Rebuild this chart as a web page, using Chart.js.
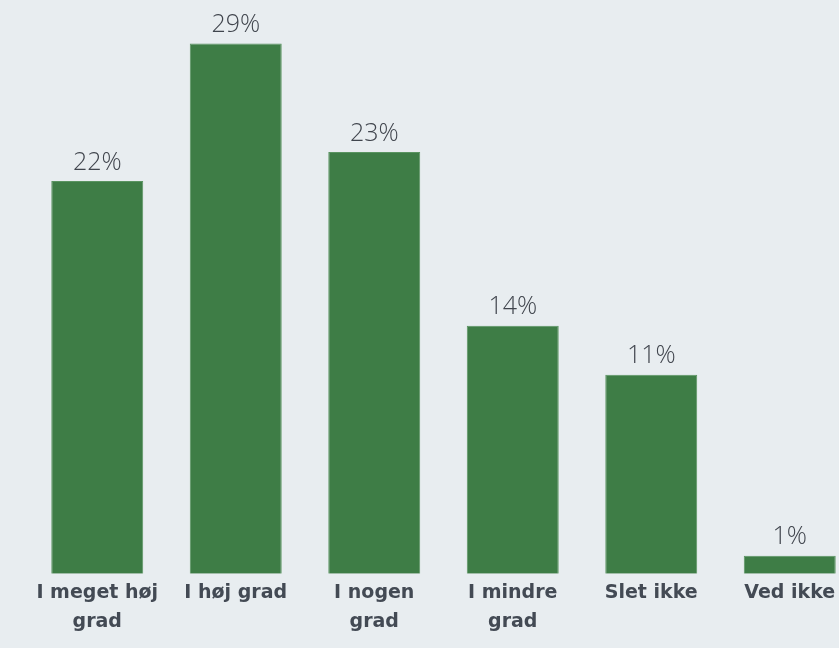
<!DOCTYPE html>
<html>
<head>
<meta charset="utf-8">
<script src="https://cdn.jsdelivr.net/npm/chart.js@4"></script>
<style>
    html, body { margin: 0; padding: 0; background: #e8edf0; overflow: hidden; }
    #wrap { width: 870px; height: 648px; }
</style>
</head>
<body>
<div id="wrap"><canvas id="chart"></canvas></div>
<script>
// categories and values
const categories = [['I meget høj', 'grad'], 'I høj grad', ['I nogen', 'grad'], ['I mindre', 'grad'], 'Slet ikke', 'Ved ikke'];
const shares = [21.7, 29.3, 23.3, 13.7, 11, 1];

const valueLabels = {
    id: 'valueLabels',
    afterDatasetsDraw(chart) {
        const ctx = chart.ctx;
        const meta = chart.getDatasetMeta(0);
        ctx.save();
        ctx.font = '300 25px "Open Sans"';
        ctx.fillStyle = '#40454d';
        ctx.textAlign = 'center';
        ctx.textBaseline = 'bottom';
        meta.data.forEach((bar, i) => {
            ctx.fillText(Math.round(shares[i]) + '%', bar.x, bar.y - 6);
        });
        ctx.restore();
    }
};

new Chart(document.getElementById('chart'), {
    type: 'bar',
    data: {
        labels: categories,
        datasets: [{
            data: shares,
            backgroundColor: '#3e7d46',
            borderColor: '#5a9461',
            borderWidth: 1,
            categoryPercentage: 1,
            barPercentage: 0.664
        }]
    },
    options: {
        responsive: true,
        maintainAspectRatio: false,
        animation: false,
        layout: { padding: { left: 28, right: 11, top: 0, bottom: 14 } },
        plugins: { legend: { display: false }, tooltip: { enabled: false } },
        scales: {
            x: {
                grid: { display: false },
                border: { display: false },
                ticks: {
                    color: '#434a54',
                    font: { family: 'DejaVu Sans', size: 19, weight: 'bold', lineHeight: 1.53 },
                    padding: -3,
                    maxRotation: 0,
                    autoSkip: false
                }
            },
            y: {
                display: false,
                min: 0,
                max: 31.7
            }
        }
    },
    plugins: [valueLabels]
});
</script>
</body>
</html>
